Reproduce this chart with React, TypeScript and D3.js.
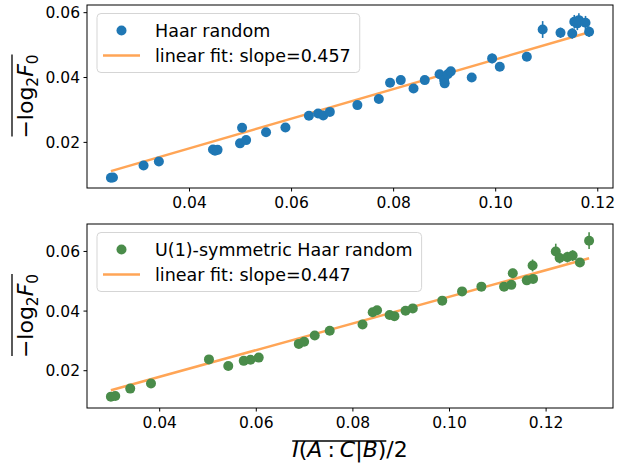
import React, { useEffect, useRef } from "react";
import * as d3 from "d3";

// ---------- data ----------
const haarX = [0.0246, 0.025, 0.031, 0.034, 0.0446, 0.045, 0.0455, 0.0499, 0.0503, 0.0511, 0.055, 0.0588, 0.0634, 0.0652, 0.0662, 0.0675, 0.0729, 0.0771, 0.0793, 0.0814, 0.0839, 0.0861, 0.089, 0.0899, 0.09, 0.0906, 0.0912, 0.0953, 0.0993, 0.1008, 0.1061, 0.1092, 0.1127, 0.115, 0.1154, 0.116, 0.1163, 0.1176, 0.1183];
const haarY = [0.0091, 0.0092, 0.0129, 0.0141, 0.0178, 0.0174, 0.0177, 0.0197, 0.0245, 0.0207, 0.0231, 0.0246, 0.0282, 0.0289, 0.0283, 0.0294, 0.0315, 0.0334, 0.0384, 0.0392, 0.0366, 0.0392, 0.041, 0.0392, 0.0382, 0.041, 0.0419, 0.04, 0.0459, 0.0433, 0.0464, 0.0548, 0.0538, 0.0536, 0.0572, 0.0567, 0.0577, 0.0569, 0.0541];
const haarErr = [0.0006, 0.0006, 0.0006, 0.0006, 0.0006, 0.0006, 0.0006, 0.0007, 0.0008, 0.0007, 0.0007, 0.0007, 0.0008, 0.0008, 0.0008, 0.0008, 0.0008, 0.0009, 0.001, 0.001, 0.001, 0.001, 0.001, 0.001, 0.001, 0.001, 0.001, 0.001, 0.0015, 0.0012, 0.0012, 0.0026, 0.0016, 0.0016, 0.0021, 0.0021, 0.0021, 0.0021, 0.0016];
const haarSlope = 0.457;
const haarIntercept = -0.0001;

const u1X = [0.0299, 0.0308, 0.0339, 0.0382, 0.0502, 0.0542, 0.0574, 0.0588, 0.0605, 0.0688, 0.0699, 0.0721, 0.0752, 0.082, 0.0841, 0.085, 0.0876, 0.0886, 0.0909, 0.0924, 0.0985, 0.1026, 0.1066, 0.1113, 0.1128, 0.1131, 0.116, 0.1173, 0.1172, 0.122, 0.1228, 0.1244, 0.1255, 0.127, 0.1289];
const u1Y = [0.0113, 0.0115, 0.014, 0.0157, 0.0238, 0.0216, 0.0233, 0.0237, 0.0244, 0.029, 0.0297, 0.0318, 0.0334, 0.0355, 0.0396, 0.0403, 0.0387, 0.0383, 0.0401, 0.0409, 0.0435, 0.0466, 0.0482, 0.0482, 0.0488, 0.0527, 0.0503, 0.0508, 0.0553, 0.06, 0.0578, 0.0581, 0.0586, 0.0563, 0.0636];
const u1Err = [0.001, 0.001, 0.001, 0.001, 0.001, 0.001, 0.001, 0.001, 0.001, 0.001, 0.001, 0.001, 0.001, 0.001, 0.0012, 0.0012, 0.0012, 0.0012, 0.0012, 0.0012, 0.0012, 0.0015, 0.0013, 0.0012, 0.0012, 0.0015, 0.0013, 0.0013, 0.002, 0.0026, 0.0018, 0.0018, 0.0018, 0.0013, 0.0028];
const u1Slope = 0.447;
const u1Intercept = 0.0001;

const xTicks = [0.04, 0.06, 0.08, 0.1, 0.12];
const yTicks = [0.02, 0.04, 0.06];

const seriesLabels = ["Haar random", "U(1)-symmetric Haar random"];
const fitLabels = ["linear fit: slope=0.457", "linear fit: slope=0.447"];

// ---------- chart ----------
const W = 618;
const H = 463;
const FONT = "DejaVu Sans, sans-serif";

export default function App() {
  const ref = useRef<SVGSVGElement>(null);

  useEffect(() => {
    const svg = d3.select(ref.current);
    svg.selectAll("*").remove();
    svg.append("rect").attr("width", W).attr("height", H).attr("fill", "white");

    const left = 87;
    const right = 613;
    const panels = [
      { xs: haarX, ys: haarY, err: haarErr, slope: haarSlope, intercept: haarIntercept, color: "#1f77b4", top: 5, bottom: 188, label: seriesLabels[0], fit: fitLabels[0] },
      { xs: u1X, ys: u1Y, err: u1Err, slope: u1Slope, intercept: u1Intercept, color: "#4a8c4a", top: 224, bottom: 408, label: seriesLabels[1], fit: fitLabels[1] },
    ];

    panels.forEach((p, pi) => {
      const xmin = d3.min(p.xs)!;
      const xmax = d3.max(p.xs)!;
      const ymin = d3.min(p.ys.map((v, i) => v - p.err[i]))!;
      const ymax = d3.max(p.ys.map((v, i) => v + p.err[i]))!;
      const xr = xmax - xmin;
      const yr = ymax - ymin;
      const x = d3.scaleLinear().domain([xmin - 0.05 * xr, xmax + 0.05 * xr]).range([left, right]);
      const y = d3.scaleLinear().domain([ymin - 0.05 * yr, ymax + 0.05 * yr]).range([p.bottom, p.top]);

      const g = svg.append("g");

      // fit line
      const line = d3.line<number>().x((d) => x(d)).y((d) => y(p.slope * d + p.intercept));
      g.append("path")
        .attr("d", line([xmin, xmax]))
        .attr("fill", "none")
        .attr("stroke", "#ffa556")
        .attr("stroke-width", 2.5);

      // error bars
      const idx = d3.range(p.xs.length);
      g.selectAll("line.err")
        .data(idx)
        .enter()
        .append("line")
        .attr("x1", (i) => x(p.xs[i]))
        .attr("x2", (i) => x(p.xs[i]))
        .attr("y1", (i) => y(p.ys[i] - p.err[i]))
        .attr("y2", (i) => y(p.ys[i] + p.err[i]))
        .attr("stroke", p.color)
        .attr("stroke-width", 1.6);

      // points
      g.selectAll("circle.pt")
        .data(idx)
        .enter()
        .append("circle")
        .attr("cx", (i) => x(p.xs[i]))
        .attr("cy", (i) => y(p.ys[i]))
        .attr("r", 5)
        .attr("fill", p.color);

      // axes frame
      g.append("rect")
        .attr("x", left)
        .attr("y", p.top)
        .attr("width", right - left)
        .attr("height", p.bottom - p.top)
        .attr("fill", "none")
        .attr("stroke", "black")
        .attr("stroke-width", 1);

      // x ticks
      xTicks.forEach((t) => {
        g.append("line")
          .attr("x1", x(t)).attr("x2", x(t))
          .attr("y1", p.bottom).attr("y2", p.bottom + 3.5)
          .attr("stroke", "black").attr("stroke-width", 1);
        g.append("text")
          .attr("x", x(t))
          .attr("y", p.bottom + 19.5)
          .attr("text-anchor", "middle")
          .attr("font-family", FONT)
          .attr("font-size", 15.5)
          .text(d3.format(".2f")(t));
      });
      // y ticks
      yTicks.forEach((t) => {
        g.append("line")
          .attr("x1", left - 3.5).attr("x2", left)
          .attr("y1", y(t)).attr("y2", y(t))
          .attr("stroke", "black").attr("stroke-width", 1);
        g.append("text")
          .attr("x", left - 7)
          .attr("y", y(t) + 5.6)
          .attr("text-anchor", "end")
          .attr("font-family", FONT)
          .attr("font-size", 15.5)
          .text(d3.format(".2f")(t));
      });

      // legend
      const lx = 97;
      const ly = p.top + 8.5;
      const lg = g.append("g");
      const box = lg.append("rect")
        .attr("x", lx).attr("y", ly)
        .attr("height", 59)
        .attr("rx", 4)
        .attr("fill", "white").attr("fill-opacity", 0.8)
        .attr("stroke", "#d5d5d5").attr("stroke-width", 1);
      const row1 = p.top + 25.5;
      const row2 = p.top + 50.5;
      lg.append("circle").attr("cx", 121.5).attr("cy", row1).attr("r", 5).attr("fill", p.color);
      lg.append("line").attr("x1", 103).attr("x2", 140).attr("y1", row2).attr("y2", row2)
        .attr("stroke", "#ffa556").attr("stroke-width", 2.5);
      const t1 = lg.append("text").attr("x", 155).attr("y", row1 + 6.3)
        .attr("font-family", FONT).attr("font-size", 17.5).text(p.label);
      const t2 = lg.append("text").attr("x", 155).attr("y", row2 + 6.3)
        .attr("font-family", FONT).attr("font-size", 17.5).text(p.fit);
      const tw = Math.max(
        (t1.node() as SVGTextElement).getComputedTextLength(),
        (t2.node() as SVGTextElement).getComputedTextLength()
      );
      box.attr("width", 155 + tw + 9 - lx);

      // y label: overline(−log2 F0)
      const cy = (p.top + p.bottom) / 2;
      const yl = g.append("g").attr("transform", `translate(33,${cy}) rotate(-90)`);
      const ytxt = yl.append("text")
        .attr("text-anchor", "middle")
        .attr("font-family", FONT)
        .attr("font-size", 22);
      ytxt.append("tspan").text("\u2212log");
      ytxt.append("tspan").attr("font-size", 15.4).attr("dy", 4.5).text("2");
      ytxt.append("tspan").attr("font-style", "italic").attr("dy", -4.5).text("F");
      ytxt.append("tspan").attr("font-size", 15.4).attr("dy", 4.5).text("0");
      const yb = (ytxt.node() as SVGTextElement).getBBox();
      yl.append("line")
        .attr("x1", yb.x + 2).attr("x2", yb.x + yb.width)
        .attr("y1", -21).attr("y2", -21)
        .attr("stroke", "black").attr("stroke-width", 1.3);

      if (pi === 1) {
        // x label: overline(I(A:C|B))/2
        const xl = g.append("g");
        const a = xl.append("text").attr("font-family", FONT).attr("font-size", 22).attr("y", 457);
        a.append("tspan").attr("font-style", "italic").text("I");
        a.append("tspan").text("(");
        a.append("tspan").attr("font-style", "italic").text("A");
        a.append("tspan").attr("dx", 5).text(":");
        a.append("tspan").attr("dx", 5).attr("font-style", "italic").text("C");
        a.append("tspan").text("|");
        a.append("tspan").attr("font-style", "italic").text("B");
        a.append("tspan").text(")");
        const aw = (a.node() as SVGTextElement).getBBox().width;
        const b = xl.append("text").attr("font-family", FONT).attr("font-size", 22).attr("y", 457).text("/2");
        const bw = (b.node() as SVGTextElement).getComputedTextLength();
        const total = aw + bw;
        const x0 = (left + right) / 2 - total / 2;
        a.attr("x", x0);
        b.attr("x", x0 + aw);
        xl.append("line")
          .attr("x1", x0).attr("x2", x0 + aw)
          .attr("y1", 441).attr("y2", 441)
          .attr("stroke", "black").attr("stroke-width", 1.3);
      }
    });
  }, []);

  return (
    <svg
      ref={ref}
      width={W}
      height={H}
      style={{ position: "absolute", left: 0, top: 0, display: "block" }}
    />
  );
}
